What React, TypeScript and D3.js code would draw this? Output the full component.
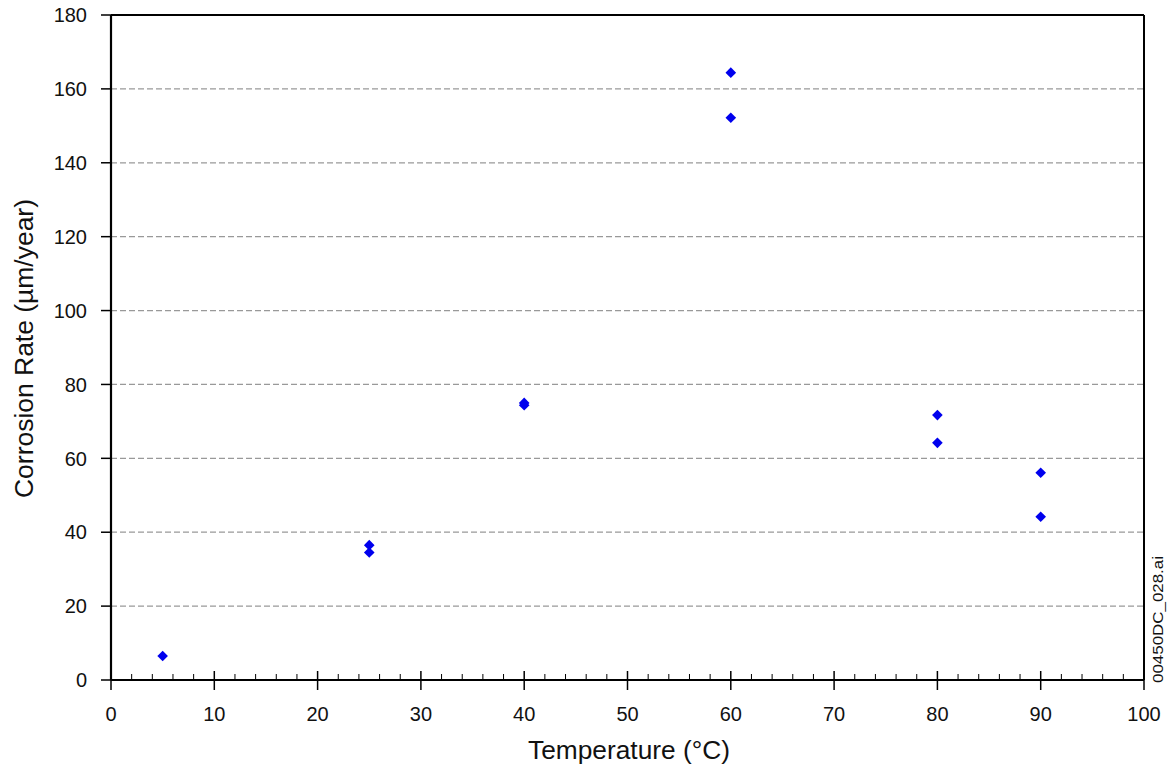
import React from "react";
import * as d3 from "d3";

const temperatures = [5, 25, 25, 40, 40, 60, 60, 80, 80, 90, 90];
const corrosionRates = [6.5, 36.5, 34.5, 75, 74.4, 164.4, 152.2, 71.7, 64.2, 56.1, 44.2];
const xTicks = [0, 10, 20, 30, 40, 50, 60, 70, 80, 90, 100];
const yTicks = [0, 20, 40, 60, 80, 100, 120, 140, 160, 180];
const xTitle = "Temperature (°C)";
const yTitle = "Corrosion Rate (µm/year)";
const fileLabel = "00450DC_028.ai";

export default function App() {
  const W = 1169, H = 768;
  const L = 111, R = 1144, T = 15, B = 680;
  const x = d3.scaleLinear().domain([0, 100]).range([L, R]);
  const y = d3.scaleLinear().domain([0, 180]).range([B, T]);
  const minor = d3.range(0, 101, 2).filter((v) => v % 10 !== 0);
  const font = "Liberation Sans, Arial, sans-serif";
  const diamond = d3.symbol().type(d3.symbolDiamond2).size(72)() as string;
  const data = temperatures.map((t, i) => ({ t, r: corrosionRates[i] }));

  return (
    <svg width={W} height={H} style={{ position: "absolute", left: 0, top: 0, background: "#fff" }}>
      <rect x={0} y={0} width={W} height={H} fill="#fff" />
      {yTicks.filter((v) => v > 0 && v < 180).map((v) => (
        <line key={"g" + v} x1={L} x2={R} y1={y(v)} y2={y(v)} stroke="#999" strokeWidth={1.2} strokeDasharray="6,3" />
      ))}
      <line x1={L} x2={R} y1={T} y2={T} stroke="#000" strokeWidth={2} />
      <line x1={R} x2={R} y1={T} y2={B} stroke="#000" strokeWidth={2} />
      <line x1={L} x2={L} y1={T} y2={B} stroke="#000" strokeWidth={2.2} />
      <line x1={L} x2={R} y1={B} y2={B} stroke="#000" strokeWidth={2.2} />
      {yTicks.map((v) => (
        <g key={"y" + v}>
          <line x1={L - 10} x2={L} y1={y(v)} y2={y(v)} stroke="#000" strokeWidth={1.5} />
          <text x={87} y={y(v)} dy="0.36em" textAnchor="end" fontFamily={font} fontSize={20} fill="#111">{v}</text>
        </g>
      ))}
      {minor.map((v) => (
        <line key={"m" + v} x1={x(v)} x2={x(v)} y1={B - 6} y2={B} stroke="#000" strokeWidth={1} />
      ))}
      {xTicks.map((v) => (
        <g key={"x" + v}>
          <line x1={x(v)} x2={x(v)} y1={B - 9} y2={B + 10} stroke="#000" strokeWidth={1.5} />
          <text x={x(v)} y={721} textAnchor="middle" fontFamily={font} fontSize={20} fill="#111">{v}</text>
        </g>
      ))}
      {data.map((d, i) => (
        <path key={"p" + i} d={diamond} transform={`translate(${x(d.t)},${y(d.r)})`} fill="#0000ee" />
      ))}
      <text x={528} y={759} textLength={202} lengthAdjust="spacingAndGlyphs" fontFamily={font} fontSize={25} fill="#111">{xTitle}</text>
      <text transform={`translate(33,498) rotate(-90)`} textLength={299} lengthAdjust="spacingAndGlyphs" fontFamily={font} fontSize={26} fill="#111">{yTitle}</text>
      <text transform={`translate(1163,683) rotate(-90)`} textLength={127} lengthAdjust="spacingAndGlyphs" fontFamily={font} fontSize={15} fill="#111">{fileLabel}</text>
    </svg>
  );
}
